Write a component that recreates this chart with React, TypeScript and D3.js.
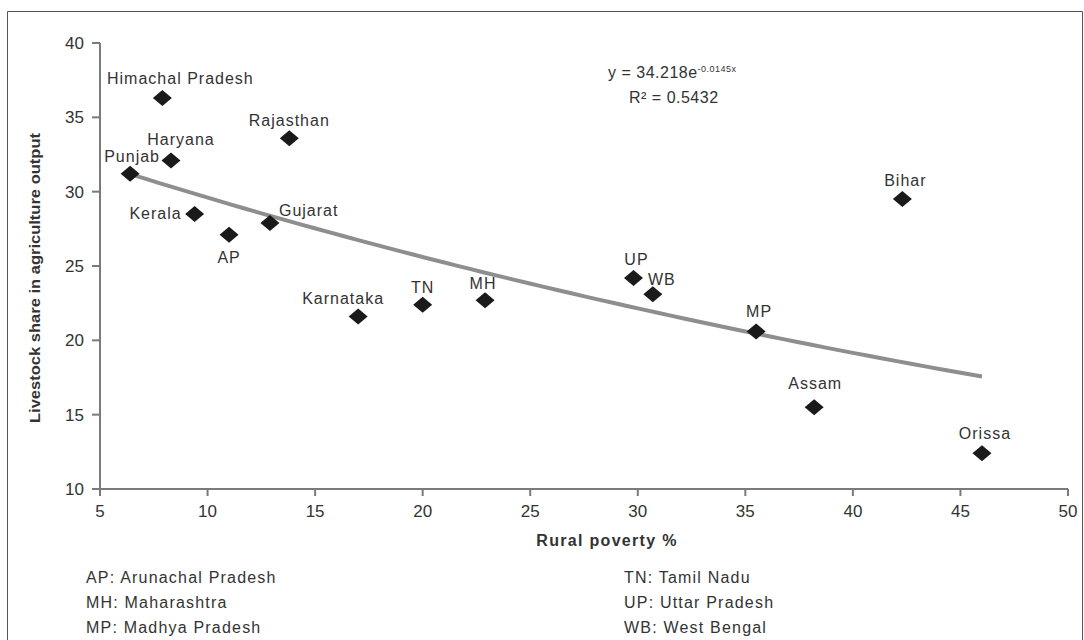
import * as d3 from "d3";

// state data: rural poverty % (x) vs livestock share in agriculture output (y)
const states = [
  "Himachal Pradesh", "Rajasthan", "Haryana", "Punjab", "Kerala", "AP", "Gujarat",
  "Karnataka", "TN", "MH", "UP", "WB", "Bihar", "MP", "Assam", "Orissa",
];
const poverty = [7.9, 13.8, 8.3, 6.4, 9.4, 11.0, 12.9, 17.0, 20.0, 22.9, 29.8, 30.7, 42.3, 35.5, 38.2, 46.0];
const livestock = [36.3, 33.6, 32.1, 31.2, 28.5, 27.1, 27.9, 21.6, 22.4, 22.7, 24.2, 23.1, 29.5, 20.6, 15.5, 12.4];

const xTicks = [5, 10, 15, 20, 25, 30, 35, 40, 45, 50];
const yTicks = [10, 15, 20, 25, 30, 35, 40];

// exponential trendline as printed on the chart
const trendA = 34.218;
const trendB = -0.0145;
const rSquared = "0.5432";

const legendLeft = ["AP: Arunachal Pradesh", "MH: Maharashtra", "MP: Madhya Pradesh"];
const legendRight = ["TN: Tamil Nadu", "UP: Uttar Pradesh", "WB: West Bengal"];

// label placement relative to each diamond: [dx, dy, anchor]
const labelPos: [number, number, string][] = [
  [18, -14, "middle"], [0, -12, "middle"], [10, -15, "middle"], [2, -12, "middle"],
  [-13, 5, "end"], [0, 28, "middle"], [9, -7, "start"], [-15, -13, "middle"],
  [0, -12, "middle"], [-2, -11, "middle"], [3, -13, "middle"], [9, -9, "middle"],
  [3, -13, "middle"], [3, -14, "middle"], [1, -18, "middle"], [3, -14, "middle"],
];

const W = 1084;
const H = 640;
const font = "'Liberation Sans', Arial, sans-serif";
const ink = "#333";
const axisGray = "#7a7a7a";

const App = () => {
  const x = d3.scaleLinear().domain([5, 50]).range([100, 1068]);
  const y = d3.scaleLinear().domain([10, 40]).range([489, 43]);

  const xMin = d3.min(poverty) as number;
  const xMax = d3.max(poverty) as number;
  const trendPts = d3.range(0, 61).map((i) => xMin + ((xMax - xMin) * i) / 60);
  const trend = d3
    .line<number>()
    .x((d) => x(d))
    .y((d) => y(trendA * Math.exp(trendB * d)))(trendPts);

  const diamond = (cx: number, cy: number) =>
    `M${cx},${cy - 8}L${cx + 9.5},${cy}L${cx},${cy + 8}L${cx - 9.5},${cy}Z`;

  return (
    <svg
      width={W}
      height={H}
      style={{ position: "absolute", left: 0, top: 0, background: "#fff" }}
      fontFamily={font}
    >
      {/* frame */}
      <path d={`M7.5,${H}V11.5H1082.5V${H}`} fill="none" stroke="#555" strokeWidth={1} />

      {/* axes */}
      <line x1={100} x2={100} y1={y(40)} y2={y(10)} stroke={axisGray} strokeWidth={2} />
      <line x1={100} x2={x(50)} y1={y(10)} y2={y(10)} stroke={axisGray} strokeWidth={2} />
      {yTicks.map((t) => (
        <g key={"y" + t}>
          <line x1={92} x2={100} y1={y(t)} y2={y(t)} stroke={axisGray} strokeWidth={2} />
          <text x={84} y={y(t) + 6} textAnchor="end" fontSize={17} fill={ink}>
            {t}
          </text>
        </g>
      ))}
      {xTicks.map((t) => (
        <g key={"x" + t}>
          <line x1={x(t)} x2={x(t)} y1={y(10)} y2={y(10) + 7} stroke={axisGray} strokeWidth={2} />
          <text x={x(t)} y={517} textAnchor="middle" fontSize={17} fill={ink}>
            {t}
          </text>
        </g>
      ))}

      {/* axis titles */}
      <text
        transform="translate(40,278) rotate(-90)"
        textAnchor="middle"
        fontSize={15}
        fontWeight="bold"
        fill={ink}
        textLength={290}
        lengthAdjust="spacingAndGlyphs"
      >
        Livestock share in agriculture output
      </text>
      <text x={607} y={546} textAnchor="middle" fontSize={16} fontWeight="bold" fill={ink} letterSpacing={1.3}>
        Rural poverty %
      </text>

      {/* trendline */}
      <path d={trend ?? ""} fill="none" stroke="#8e8e8e" strokeWidth={4} />

      {/* points */}
      {states.map((s, i) => {
        const cx = x(poverty[i]);
        const cy = y(livestock[i]);
        const [dx, dy, anchor] = labelPos[i];
        return (
          <g key={s}>
            <path d={diamond(cx, cy)} fill="#1a1a1a" />
            <text
              x={cx + dx}
              y={cy + dy}
              textAnchor={anchor as any}
              fontSize={16}
              fill={ink}
              letterSpacing={1}
            >
              {s}
            </text>
          </g>
        );
      })}

      {/* equation */}
      <text x={608} y={78} fontSize={16} fill={ink} letterSpacing={0.5}>
        y = {trendA}e
        <tspan fontSize={9} dy={-6}>
          {trendB}x
        </tspan>
      </text>
      <text x={629} y={103} fontSize={16} fill={ink} letterSpacing={0.5}>
        R² = {rSquared}
      </text>

      {/* abbreviations */}
      {legendLeft.map((t, i) => (
        <text key={t} x={86} y={583 + i * 25} fontSize={16} fill={ink} letterSpacing={1.2}>
          {t}
        </text>
      ))}
      {legendRight.map((t, i) => (
        <text key={t} x={624} y={583 + i * 25} fontSize={16} fill={ink} letterSpacing={1.2}>
          {t}
        </text>
      ))}
    </svg>
  );
};

export default App;
